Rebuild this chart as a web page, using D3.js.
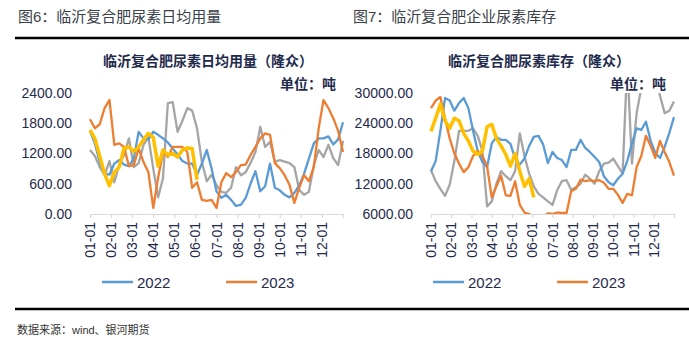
<!DOCTYPE html>
<html>
<head>
<meta charset="utf-8">
<script src="https://cdn.jsdelivr.net/npm/d3@7"></script>
<style>
	body { margin: 0; background: #fff; }
	svg text { font-family: Arial, "Liberation Sans", "Noto Sans CJK SC", sans-serif; }
</style>
</head>
<body>
<script>
(function() {

	// month tick labels, shared by both panels
	var month_labels = ["01-01","02-01","03-01","04-01","05-01","06-01",
		"07-01","08-01","09-01","10-01","11-01","12-01"];

	var legend_years = ["2022", "2023"];

	// weekly daily-usage (t), panel 1
	var usage_2021 = [1270,1150,930,770,1050,630,970,1170,1500,930,1010,1370,1530,900,330,710,
		2200,2220,1630,1850,2100,2050,1700,1030,650,780,570,440,420,520,930,770,830,1010,1230,
		1730,1330,1430,1030,1070,1040,1010,930,480,380,440,970,1270,1130,1370,1110,970,1450];
	var usage_2022 = [1650,1400,1030,800,780,1000,1070,980,950,1100,1630,1500,1480,1630,1570,
		1500,1420,1300,1180,1050,1000,1000,780,1000,1270,900,450,320,380,280,160,180,320,600,850,
		450,550,1000,520,470,380,330,420,560,800,1100,1400,1500,1500,1540,1380,1480,1820];
	var usage_2023 = [1880,1700,1780,2100,2260,1370,1400,1330,950,970,1300,1030,830,120,720,
		1230,1130,1330,1330,1330,1230,520,630,280,260,280,120,630,810,730,830,970,980,1170,1330,
		1500,1600,1570,1010,910,770,580,220,520,770,650,930,1700,2260,2100,1900,1650,1230];
	var usage_2024 = [1670,1500,1150,800,560,830,930,1310,1330,1240,1330,1470,1600,1520,950,
		1270,1170,1200,1130,1270,1310,1300,680];

	// weekly urea stock (t), panel 2
	var stock_2021 = [14700,12500,11000,9600,11800,16500,22500,22500,22500,23000,21500,18500,
		7500,8500,12000,14500,13500,12700,14500,22000,17500,14000,11500,10000,9300,8500,7800,
		10700,12500,12700,10800,11300,12000,13800,13000,12000,14500,16000,16200,17000,15500,
		14000,36000,16000,26000,31000,34000,35000,33000,29500,26000,26500,28300];
	var stock_2022 = [14500,16500,22500,29000,28500,26500,28000,29000,27000,22500,18500,16300,
		15300,20000,21300,20700,20700,19900,17000,15800,17000,19500,21300,21500,19800,16100,18300,
		17100,16700,15300,18700,18700,20700,19100,18300,17300,16300,13500,12300,11700,13000,
		14000,16500,20000,23000,22700,24300,20500,18100,17100,19300,22100,25200];
	var stock_2023 = [27000,28500,29200,25000,21000,18000,16000,14300,15300,17500,18500,17500,
		15500,9300,11500,13600,9700,9600,12500,7800,6300,6000,5500,5200,5500,6100,6000,6300,6200,
		6200,10500,11000,12800,12500,12700,12500,12700,12200,11000,11000,9800,8200,10000,9700,
		15300,17500,21500,19500,17100,20500,18300,16300,13600];
	var stock_2024 = [22400,25000,27800,24500,23000,25000,24500,22000,20500,18500,17800,18500,
		23300,23800,21000,19500,17800,15500,18000,14500,11500,13000,9300];

	var usage_ticks = [0, 600, 1200, 1800, 2400];
	var stock_ticks = [6000, 12000, 18000, 24000, 30000];

	var TEXT_COLOR = "#1f2b4c";

	var svg = d3.select("body").append("svg")
		.attr("width", 689)
		.attr("height", 345);

	function build_panel(opt) {

		var x_week = d3.scaleLinear().domain([0, 52]).range([opt.left, opt.right]);
		var x_month = d3.scaleLinear().domain([0, 12]).range([opt.left, opt.right]);
		var y = d3.scaleLinear().domain(opt.domain).range([214, 93]);

		var g = svg.append("g");

		// header
		g.append("text")
			.attr("x", opt.head_x)
			.attr("y", 22)
			.style("font-size", "15px")
			.style("fill", "#3a3f4a")
			.text(opt.heading);

		g.append("text")
			.attr("x", opt.title_x)
			.attr("y", 66)
			.attr("text-anchor", "middle")
			.style("font-size", "14px")
			.style("font-weight", "bold")
			.style("fill", TEXT_COLOR)
			.text(opt.title);

		g.append("text")
			.attr("x", opt.unit_x)
			.attr("y", 89)
			.attr("text-anchor", "end")
			.style("font-size", "14px")
			.style("font-weight", "bold")
			.style("fill", TEXT_COLOR)
			.text("单位：吨");

		// y axis: labels only
		var y_axis = g.append("g")
			.attr("transform", "translate(" + (opt.left - 18) + ",0)")
			.call(d3.axisLeft(y).tickValues(opt.ticks).tickSize(0).tickPadding(0)
				.tickFormat(d3.format(".2f")));
		y_axis.select(".domain").remove();
		y_axis.selectAll("text")
			.style("font-size", "14px")
			.style("fill", TEXT_COLOR);

		// x axis with month ticks
		var x_axis = g.append("g")
			.attr("transform", "translate(0,214)")
			.call(d3.axisBottom(x_month).tickValues(d3.range(13)).tickSize(4).tickFormat(""));
		x_axis.select(".domain").attr("stroke", "#d9d9d9").attr("stroke-width", 1.2);
		x_axis.selectAll(".tick line").attr("stroke", "#d9d9d9").attr("stroke-width", 1.2);

		g.selectAll(".month_label")
			.data(month_labels)
			.enter()
			.append("text")
				.attr("class", "month_label")
				.attr("transform", function(d, i) {
					return "translate(" + (x_month(i) + 5) + ",222) rotate(-90)";
				})
				.attr("text-anchor", "end")
				.style("font-size", "14px")
				.style("fill", TEXT_COLOR)
				.text(d => d);

		// series, clipped to the plot area
		var clip_id = "clip_" + opt.name;
		svg.append("clipPath")
			.attr("id", clip_id)
			.append("rect")
				.attr("x", opt.left - 3)
				.attr("y", 93)
				.attr("width", opt.right - opt.left + 6)
				.attr("height", 121);

		var line = d3.line()
			.x((d, i) => x_week(i))
			.y(d => y(d));

		g.append("g")
			.attr("clip-path", "url(#" + clip_id + ")")
			.selectAll("path")
			.data(opt.series)
			.enter()
			.append("path")
				.attr("d", d => line(d.values))
				.attr("fill", "none")
				.attr("stroke", d => d.color)
				.attr("stroke-width", d => d.width)
				.attr("stroke-linejoin", "round");

		// legend
		var legend = g.selectAll(".legend_item")
			.data(legend_years)
			.enter()
			.append("g")
				.attr("class", "legend_item")
				.attr("transform", (d, i) => "translate(" + (opt.legend_x + i * 124) + ",282)");

		legend.append("line")
			.attr("x1", 0)
			.attr("x2", 31)
			.attr("stroke", (d, i) => i == 0 ? "#5b9bd5" : "#ed7d31")
			.attr("stroke-width", 2.5);

		legend.append("text")
			.attr("x", 35)
			.attr("y", 5.5)
			.style("font-size", "15px")
			.style("fill", TEXT_COLOR)
			.text(d => d);
	}

	build_panel({
		name: "usage",
		left: 90, right: 343,
		domain: [0, 2400],
		ticks: usage_ticks,
		head_x: 18,
		heading: "图6：临沂复合肥尿素日均用量",
		title_x: 208,
		title: "临沂复合肥尿素日均用量（隆众）",
		unit_x: 336,
		legend_x: 102,
		series: [
			{values: usage_2021, color: "#a5a5a5", width: 2.3},
			{values: usage_2022, color: "#5b9bd5", width: 2.3},
			{values: usage_2023, color: "#ed7d31", width: 2.3},
			{values: usage_2024, color: "#ffc000", width: 3.5}
		]
	});

	build_panel({
		name: "stock",
		left: 431, right: 674,
		domain: [6000, 30000],
		ticks: stock_ticks,
		head_x: 353,
		heading: "图7：临沂复合肥企业尿素库存",
		title_x: 539,
		title: "临沂复合肥尿素库存（隆众）",
		unit_x: 666,
		legend_x: 433,
		series: [
			{values: stock_2021, color: "#a5a5a5", width: 2.3},
			{values: stock_2022, color: "#5b9bd5", width: 2.3},
			{values: stock_2023, color: "#ed7d31", width: 2.3},
			{values: stock_2024, color: "#ffc000", width: 3.5}
		]
	});

	// rules above and below the panels
	svg.append("line")
		.attr("x1", 15).attr("x2", 689)
		.attr("y1", 38).attr("y2", 38)
		.attr("stroke", "#000")
		.attr("stroke-width", 2.5);

	svg.append("line")
		.attr("x1", 15).attr("x2", 689)
		.attr("y1", 309).attr("y2", 309)
		.attr("stroke", "#000")
		.attr("stroke-width", 2.5);

	svg.append("text")
		.attr("x", 17)
		.attr("y", 334)
		.style("font-size", "11px")
		.style("fill", "#333")
		.text("数据来源：wind、银河期货");

}) ();
</script>
</body>
</html>
